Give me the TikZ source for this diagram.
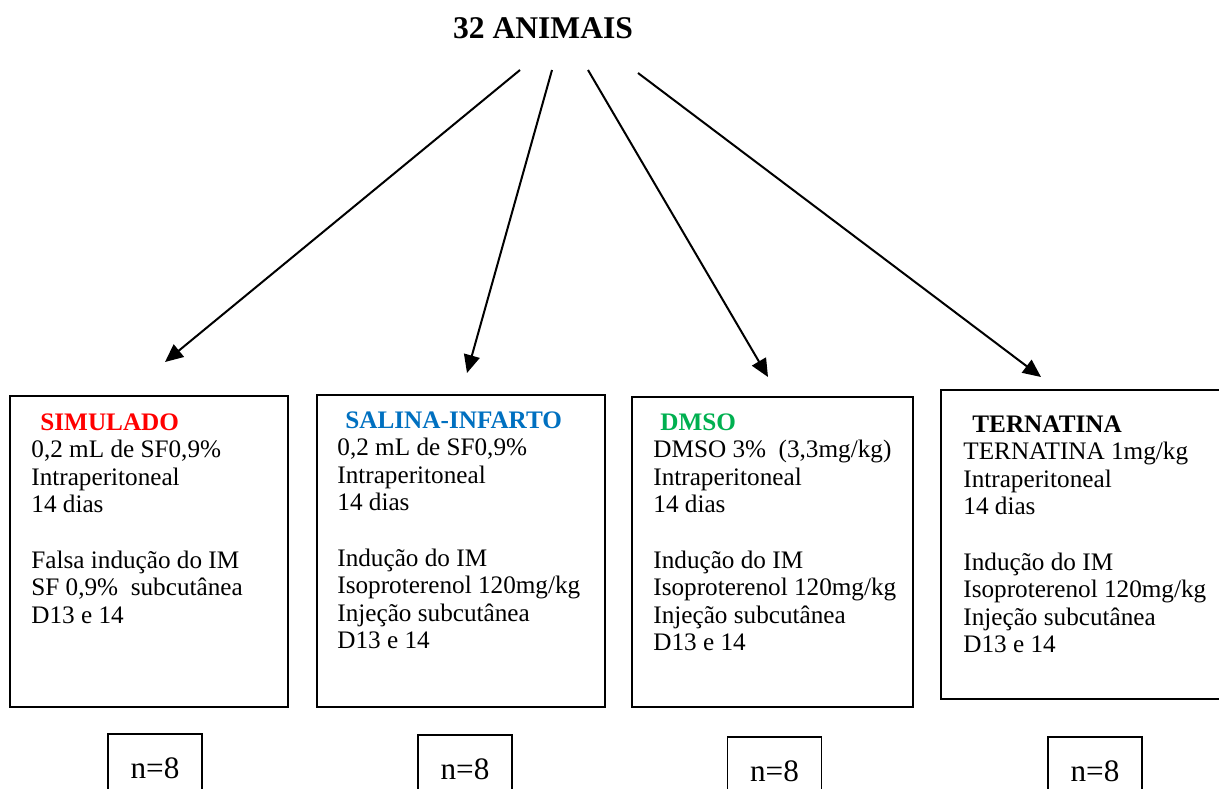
\documentclass[tikz,border=0pt]{standalone}
\usepackage{fontspec}
\setmainfont{Liberation Serif}
\usetikzlibrary{arrows.meta}

\definecolor{simred}{RGB}{255,0,0}
\definecolor{salblue}{RGB}{0,112,192}
\definecolor{dmsogreen}{RGB}{0,176,80}

\begin{document}
\begin{tikzpicture}[x=0.5pt,y=-0.5pt,
  grupo/.style={draw,line width=0.9pt,rectangle,inner sep=0pt},
  texto/.style={anchor=north west,align=left,inner sep=0pt,font=\fontsize{12.6}{13.8}\selectfont},
  nbox/.style={draw,line width=0.9pt,minimum width=47pt,minimum height=34pt,font=\fontsize{15.6}{18}\selectfont},
  seta/.style={-{Triangle[length=9pt,width=8pt]},line width=1pt}]
  \clip (0,0) rectangle (1219,788);

  % title
  \node[font=\fontsize{15.8}{18}\selectfont\bfseries] (titulo) at (543,28) {32 ANIMAIS};

  % groups
  \node[grupo,minimum width=139pt,minimum height=155.5pt] (b1) at (149,551.5) {};
  \node[grupo,minimum width=144pt,minimum height=156pt] (b2) at (461,551) {};
  \node[grupo,minimum width=140.5pt,minimum height=155pt] (b3) at (772.5,552) {};
  \node[grupo,minimum width=144pt,minimum height=154.5pt] (b4) at (1085,544.5) {};

  \node[texto] (t1) at (31,413) {\hspace{4.5pt}\textcolor{simred}{\bfseries SIMULADO}\\
    0,2 mL de SF0,9\%\\ Intraperitoneal\\ 14 dias\\[13.8pt]
    Falsa indução do IM\\ SF 0,9\% \ subcutânea\\ D13 e 14};
  \node[texto] (t2) at (337,411) {\hspace{4pt}\textcolor{salblue}{\bfseries SALINA-INFARTO}\\
    0,2 mL de SF0,9\%\\ Intraperitoneal\\ 14 dias\\[13.8pt]
    Indução do IM\\ Isoproterenol 120mg/kg\\ Injeção subcutânea\\ D13 e 14};
  \node[texto] (t3) at (653,413) {\hspace{3.5pt}\textcolor{dmsogreen}{\bfseries DMSO}\\
    DMSO 3\% \ (3,3mg/kg)\\ Intraperitoneal\\ 14 dias\\[13.8pt]
    Indução do IM\\ Isoproterenol 120mg/kg\\ Injeção subcutânea\\ D13 e 14};
  \node[texto] (t4) at (963,415) {\hspace{4.5pt}{\bfseries TERNATINA}\\
    TERNATINA 1mg/kg\\ Intraperitoneal\\ 14 dias\\[13.8pt]
    Indução do IM\\ Isoproterenol 120mg/kg\\ Injeção subcutânea\\ D13 e 14};

  % sizes
  \node[nbox] (n1) at (155,768) {n=8};
  \node[nbox] (n2) at (465,769) {n=8};
  \node[nbox] (n3) at (774.5,771) {n=8};
  \node[nbox] (n4) at (1095,771) {n=8};

  % arrows
  \coordinate (s1) at (520,70);
  \coordinate (s2) at (552,70);
  \coordinate (s3) at (588,70);
  \coordinate (s4) at (638,73);
  \coordinate (e1) at (165,362);
  \coordinate (e2) at (467,373);
  \coordinate (e3) at (768,377);
  \coordinate (e4) at (1041,377);
  \draw[seta] (s1) -- (e1);
  \draw[seta] (s2) -- (e2);
  \draw[seta] (s3) -- (e3);
  \draw[seta] (s4) -- (e4);
\end{tikzpicture}
\end{document}
